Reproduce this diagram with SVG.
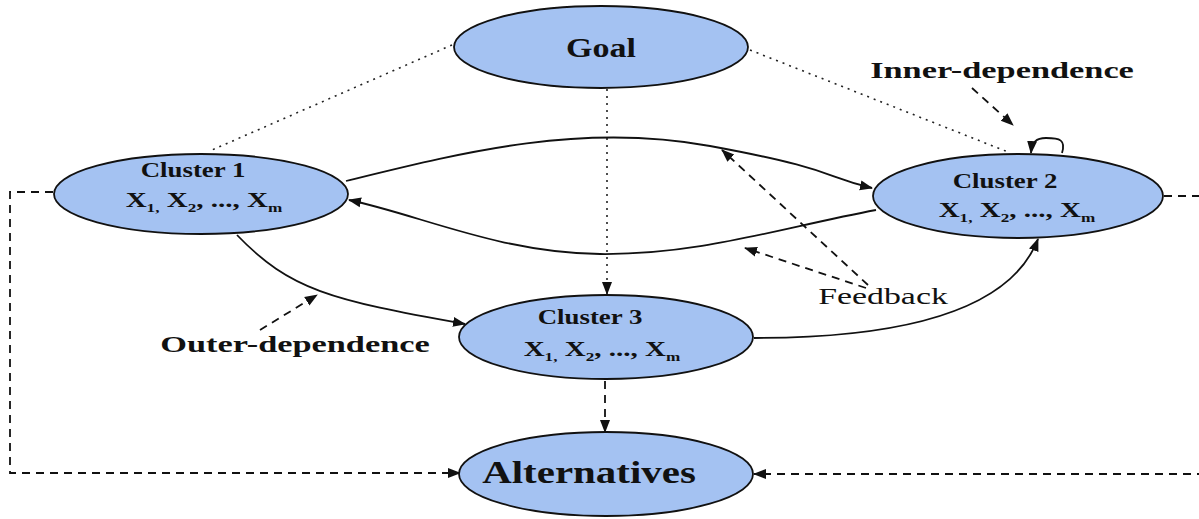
<svg xmlns="http://www.w3.org/2000/svg" width="1199" height="519" viewBox="0 0 1199 519">
<style>
.node{fill:#a4c2f2;stroke:#111;stroke-width:1.8}
.t{font-family:"Liberation Serif","Times New Roman",serif;font-weight:bold;fill:#111;text-anchor:middle}
.n{font-family:"Liberation Serif","Times New Roman",serif;fill:#111;text-anchor:middle}
.sub{font-size:13px}
.solid{fill:none;stroke:#111;stroke-width:1.8}
.dash{fill:none;stroke:#111;stroke-width:1.8;stroke-dasharray:8 6}
.dot{fill:none;stroke:#222;stroke-width:1.6;stroke-dasharray:2 5}
</style>
<defs>
<marker id="ah" markerUnits="userSpaceOnUse" markerWidth="14" markerHeight="12" refX="12" refY="5" orient="auto" viewBox="0 0 14 10">
<path d="M0,0 L13,5 L0,10 z" fill="#111"/>
</marker>
</defs>
<rect width="1199" height="519" fill="#fff"/>
<g id="connectors">
<path class="dot" d="M452,45 L212,150"/>
<path class="dot" d="M750,50 L1008,152"/>
<path class="dot" d="M607,89 L607,294" marker-end="url(#ah)"/>
<path class="solid" d="M346,181 C460,153 580,122 710,146 S820,176 872,188" marker-end="url(#ah)"/>
<path class="solid" d="M876,210 C780,228 700,255 600,254 S420,215 349,200" marker-end="url(#ah)"/>
<path class="solid" d="M237,235 C290,290 330,300 465,324" marker-end="url(#ah)"/>
<path class="solid" d="M754,338 C900,338 1010,312 1038,239" marker-end="url(#ah)"/>
<path class="solid" d="M1062,153 C1066,140 1060,138 1046,138 C1036,138 1032,142 1031,153" marker-end="url(#ah)"/>
<path class="dash" d="M868,285 L722,150" marker-end="url(#ah)"/>
<path class="dash" d="M866,288 L745,248" marker-end="url(#ah)"/>
<path class="dash" d="M260,330 L317,295" marker-end="url(#ah)"/>
<path class="dash" d="M972,88 L1013,125" marker-end="url(#ah)"/>
<path class="dash" d="M605,381 L605,432" marker-end="url(#ah)"/>
<path class="dash" d="M53,192 L10,192 L10,473 L460,473" marker-end="url(#ah)"/>
<path class="dash" d="M1164,196 L1205,196"/>
<path class="dash" d="M1205,474 L754,474" marker-end="url(#ah)"/>
</g>
<g id="goal">
<ellipse class="node" cx="601" cy="47" rx="147" ry="41"/>
<text class="t" font-size="27" transform="translate(601,57) scale(1.26,1)">Goal</text>
</g>
<g id="cluster1">
<ellipse class="node" cx="201" cy="194" rx="147" ry="40"/>
<text class="t" font-size="21" transform="translate(193,177) scale(1.28,1)">Cluster 1</text>
<text class="t" font-size="22" transform="translate(204,207) scale(1.32,1)">X<tspan class="sub" dy="5">1,</tspan><tspan dy="-5"> X</tspan><tspan class="sub" dy="5">2</tspan><tspan dy="-5">, ..., X</tspan><tspan class="sub" dy="5">m</tspan></text>
</g>
<g id="cluster2">
<ellipse class="node" cx="1018" cy="196" rx="145" ry="42"/>
<text class="t" font-size="21" transform="translate(1005,188) scale(1.28,1)">Cluster 2</text>
<text class="t" font-size="22" transform="translate(1017,217) scale(1.32,1)">X<tspan class="sub" dy="5">1,</tspan><tspan dy="-5"> X</tspan><tspan class="sub" dy="5">2</tspan><tspan dy="-5">, ..., X</tspan><tspan class="sub" dy="5">m</tspan></text>
</g>
<g id="cluster3">
<ellipse class="node" cx="606" cy="337" rx="147" ry="42"/>
<text class="t" font-size="21" transform="translate(590,324) scale(1.28,1)">Cluster 3</text>
<text class="t" font-size="22" transform="translate(602,356) scale(1.32,1)">X<tspan class="sub" dy="5">1,</tspan><tspan dy="-5"> X</tspan><tspan class="sub" dy="5">2</tspan><tspan dy="-5">, ..., X</tspan><tspan class="sub" dy="5">m</tspan></text>
</g>
<g id="alternatives">
<ellipse class="node" cx="606" cy="474" rx="147" ry="42"/>
<text class="t" font-size="31" transform="translate(589,483) scale(1.32,1)">Alternatives</text>
</g>
<g id="labels">
<text class="t" font-size="24" transform="translate(1002,78) scale(1.43,1)">Inner-dependence</text>
<text class="t" font-size="24" transform="translate(295,352) scale(1.43,1)">Outer-dependence</text>
<text class="n" font-size="24" transform="translate(883,304) scale(1.41,1)">Feedback</text>
</g>
</svg>
